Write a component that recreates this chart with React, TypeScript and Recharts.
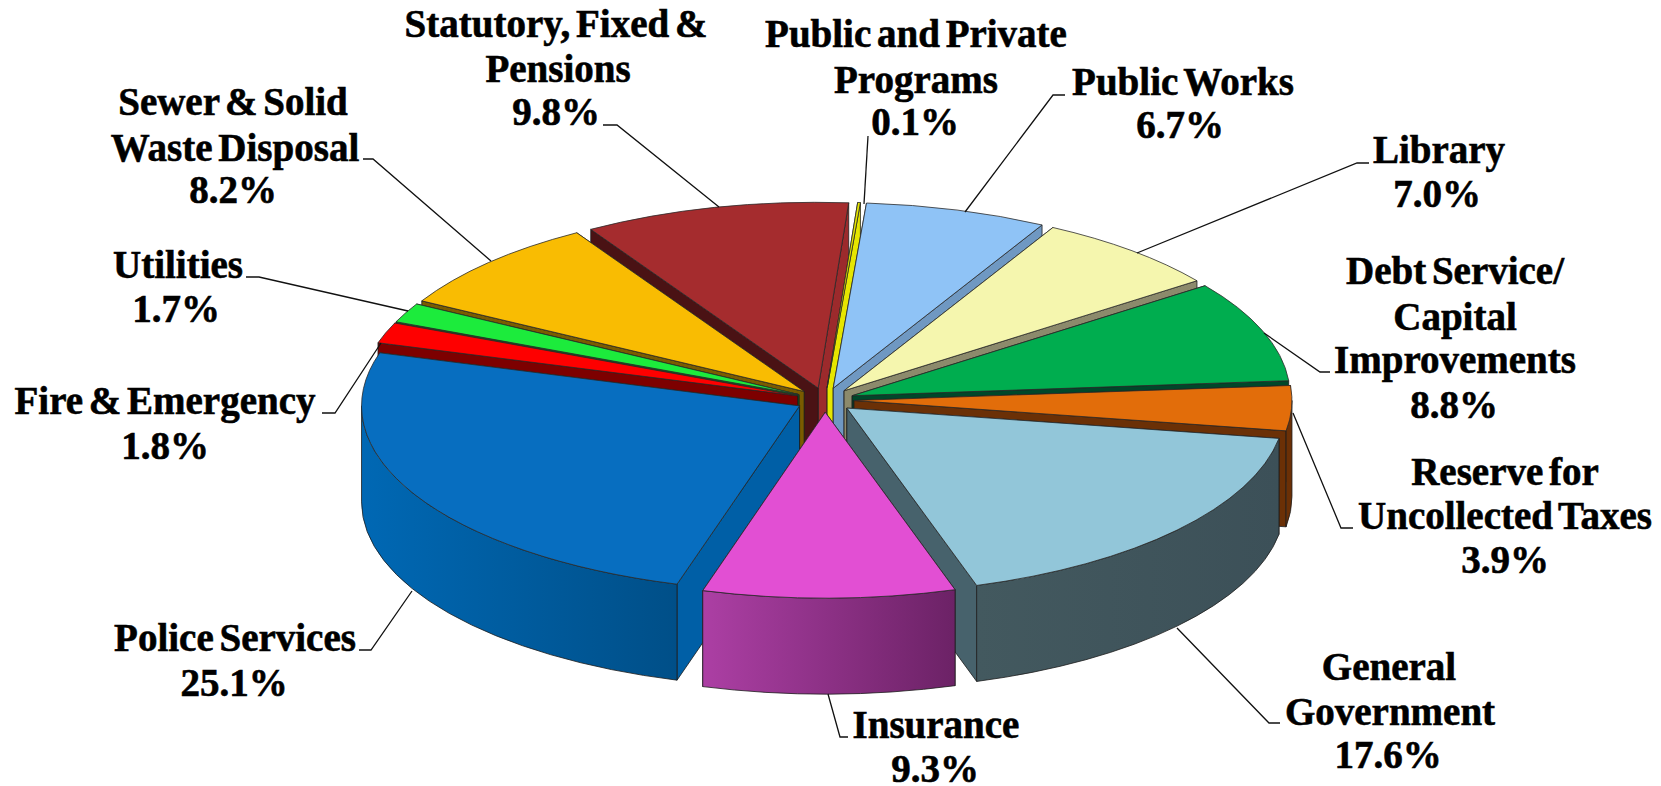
import { PieChart, Pie } from 'recharts'

// slices in clockwise order from the top of the pie
const names = [
  'Public and Private Programs', 'Public Works', 'Library', 'Debt Service/Capital Improvements',
  'Reserve for Uncollected Taxes', 'General Government', 'Insurance', 'Police Services',
  'Fire & Emergency', 'Utilities', 'Sewer & Solid Waste Disposal', 'Statutory, Fixed & Pensions',
]
const shares = [0.1, 6.7, 7.0, 8.8, 3.9, 17.6, 9.3, 25.1, 1.8, 1.7, 8.2, 9.8]
const pieData = names.map((name, i) => ({ name, value: shares[i] }))

const topColors = ['#e6e600', '#8fc3f6', '#f5f6ae', '#00ad4f', '#e26d0a', '#92c6d9', '#e24fd3', '#076ec0', '#fe0000', '#1ceb3c', '#f9bc02', '#a52c2e']
const cutColors = ['#e6e600', '#6f98c2', '#8c8a6c', '#00472a', '#6b3006', '#47626c', '#7d2a76', '#005fa6', '#7d0000', '#0c7a1e', '#7a5c00', '#4a1214']
const cutEndColors = ['#e6e600', '#6f98c2', '#8c8a6c', '#00472a', '#6b3006', '#47626c', '#7d2a76', '#005fa6', '#7d0000', '#0c7a1e', '#7a5c00', '#9c2a2c']
const wallLeft = ['#e6e600', '#6f98c2', '#8c8a6c', '#00472a', '#6b3006', '#43595f', '#ac3fa4', '#0068b4', '#7d0000', '#0c7a1e', '#7a5c00', '#4a1214']
const wallRight = ['#e6e600', '#6f98c2', '#8c8a6c', '#00472a', '#6b3006', '#3c5058', '#6c2266', '#004f88', '#7d0000', '#0c7a1e', '#7a5c00', '#4a1214']

// walls are painted back to front
const wallOrder = [11, 10, 9, 8, 0, 1, 2, 3, 4, 5, 7, 6]

// label text, one entry per line: text, centre x, baseline y
const labelLines: [string, number, number][][] = [
  [['Public and Private', 916, 47], ['Programs', 916, 93], ['0.1%', 915, 135]],
  [['Public Works', 1183, 95], ['6.7%', 1180, 138]],
  [['Library', 1439, 163], ['7.0%', 1437, 207]],
  [['Debt Service/', 1455, 284], ['Capital', 1455, 330], ['Improvements', 1455, 373], ['8.8%', 1454, 418]],
  [['Reserve for', 1505, 485], ['Uncollected Taxes', 1505, 529], ['3.9%', 1505, 573]],
  [['General', 1389, 680], ['Government', 1390, 725], ['17.6%', 1388, 768]],
  [['Insurance', 936, 738], ['9.3%', 935, 782]],
  [['Police Services', 235, 651], ['25.1%', 234, 696]],
  [['Fire & Emergency', 165, 414], ['1.8%', 165, 459]],
  [['Utilities', 178, 278], ['1.7%', 176, 322]],
  [['Sewer & Solid', 233, 115], ['Waste Disposal', 235, 161], ['8.2%', 233, 203]],
  [['Statutory, Fixed &', 556, 37], ['Pensions', 558, 82], ['9.8%', 556, 125]],
]
const leaderLines = [
  '868,136 864,204',
  '1065,95 1053,95 965,212',
  '1369,163 1357,163 1137,253',
  '1330,372 1320,372 1264,333',
  '1353,528 1341,528 1293,413',
  '1280,723 1269,723 1177,628',
  '848,737 840,737 828,694',
  '359,650 371,650 412,591',
  '322,413 335,413 381,343',
  '246,277 259,277 408,311',
  '363,159 373,159 491,261',
  '603,125 617,125 719,207',
]

const SQUASH = 0.424
const EXPLODE = 29
const DEPTH = 96
const rad = (deg: number) => (deg * Math.PI) / 180

function sliceGeometry(p: any) {
  const t1 = 90 - p.startAngle
  const t2 = 90 - p.endAngle
  const mid = rad((t1 + t2) / 2)
  const ox = p.cx + EXPLODE * Math.sin(mid)
  const oy = p.cy - EXPLODE * SQUASH * Math.cos(mid)
  const rx = p.outerRadius
  const ry = rx * SQUASH
  const at = (t: number, down = 0) =>
    `${ox + rx * Math.sin(rad(t))} ${oy - ry * Math.cos(rad(t)) + down}`
  return { t1, t2, ox, oy, rx, ry, at }
}

function TopShape(p: any) {
  const { t1, t2, ox, oy, rx, ry, at } = sliceGeometry(p)
  const large = t2 - t1 > 180 ? 1 : 0
  return (
    <path
      d={`M ${ox} ${oy} L ${at(t1)} A ${rx} ${ry} 0 ${large} 1 ${at(t2)} Z`}
      fill={topColors[p.index]}
      stroke="#2b2b2b"
      strokeWidth={0.8}
      strokeLinejoin="round"
    />
  )
}

function WallShape(p: any, only: number) {
  if (p.index !== only) return <g />
  const { t1, t2, ox, oy, rx, ry, at } = sliceGeometry(p)
  const i = p.index
  const a = Math.max(t1, 90)
  const b = Math.min(t2, 270)
  const cut = (t: number) =>
    `M ${ox} ${oy} L ${at(t)} L ${at(t, DEPTH)} L ${ox} ${oy + DEPTH} Z`
  const startFace = <path d={cut(t1)} fill={cutColors[i]} />
  const endFace = <path d={cut(t2)} fill={cutEndColors[i]} />
  // on the left half the start face is the one turned towards the viewer
  const leftHalf = (t1 + t2) / 2 > 180
  return (
    <g stroke="#1d1d1d" strokeWidth={0.8} strokeLinejoin="round">
      {leftHalf ? endFace : startFace}
      {leftHalf ? startFace : endFace}
      {b > a && (
        <path
          d={`M ${at(a)} A ${rx} ${ry} 0 0 1 ${at(b)} L ${at(b, DEPTH)} A ${rx} ${ry} 0 0 0 ${at(a, DEPTH)} Z`}
          fill={`url(#wall${i})`}
        />
      )}
    </g>
  )
}

function SliceLabel(p: any) {
  const i = p.index
  return (
    <g>
      <polyline points={leaderLines[i]} fill="none" stroke="#111" strokeWidth={1.3} />
      {labelLines[i].map(([text, x, y]) => (
        <text
          key={text}
          x={x}
          y={y}
          textAnchor="middle"
          fill="#000"
          stroke="#000"
          strokeWidth={0.6}
          fontFamily="'Liberation Serif', serif"
          fontWeight="bold"
          fontSize={39}
          wordSpacing={-4}
        >
          {text}
        </text>
      ))}
    </g>
  )
}

export default function App() {
  return (
    <div style={{ position: 'absolute', left: 0, top: 0, width: 1661, height: 786, background: '#fff' }}>
      <PieChart width={1661} height={786} margin={{ top: 0, right: 0, bottom: 0, left: 0 }}>
        <defs>
          {names.map((_, i) => (
            <linearGradient key={i} id={`wall${i}`} x1="0" y1="0" x2="1" y2="0">
              <stop offset="0%" stopColor={wallLeft[i]} />
              <stop offset="100%" stopColor={wallRight[i]} />
            </linearGradient>
          ))}
        </defs>
        {wallOrder.map((only) => (
          <Pie
            key={only}
            data={pieData}
            dataKey="value"
            nameKey="name"
            cx={825}
            cy={400}
            outerRadius={438}
            startAngle={86}
            endAngle={-274}
            shape={(p: any) => WallShape(p, only)}
            isAnimationActive={false}
            label={false}
            labelLine={false}
          />
        ))}
        <Pie
          data={pieData}
          dataKey="value"
          nameKey="name"
          cx={825}
          cy={400}
          outerRadius={438}
          startAngle={86}
          endAngle={-274}
          shape={TopShape}
          isAnimationActive={false}
          label={SliceLabel}
          labelLine={false}
        />
      </PieChart>
    </div>
  )
}
